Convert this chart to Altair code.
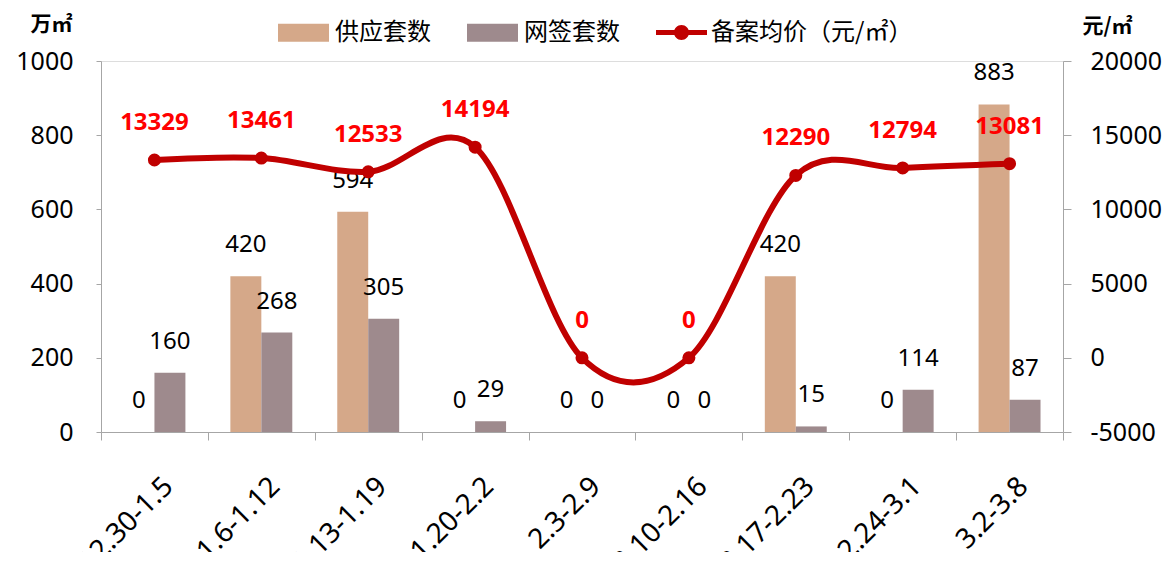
import altair as alt
import pandas as pd

categories = ["12.30-1.5", "1.6-1.12", "1.13-1.19", "1.20-2.2", "2.3-2.9",
              "2.10-2.16", "2.17-2.23", "2.24-3.1", "3.2-3.8"]
supply = [0, 420, 594, 0, 0, 0, 420, 0, 883]
signed = [160, 268, 305, 29, 0, 0, 15, 114, 87]
price = [13329, 13461, 12533, 14194, 0, 0, 12290, 12794, 13081]

bar_series = ["供应套数", "网签套数"]
bar_colors = ["#D5A889", "#9E8A8D"]
line_name = "备案均价（元/㎡）"

rows = []
for c, s, n in zip(categories, supply, signed):
    rows.append({"cat": c, "series": bar_series[0], "value": s})
    rows.append({"cat": c, "series": bar_series[1], "value": n})
bars_df = pd.DataFrame(rows)
line_df = pd.DataFrame({"cat": categories, "price": price, "name": line_name})

AX = "#A6A6A6"
NUMFONT = "Noto Sans"
CJK = "Noto Sans CJK SC"

x_enc = alt.X("cat:N", sort=categories,
              scale=alt.Scale(paddingInner=0, paddingOuter=0),
              axis=alt.Axis(title=None, labelAngle=-45, labelFontSize=28, labelFont=NUMFONT,
                            labelColor="#000", tickBand="extent", tickSize=8, tickColor=AX,
                            domainColor=AX, labelPadding=32, labelOffset=4, grid=False))
xoff = alt.XOffset("series:N", sort=bar_series,
                   scale=alt.Scale(domain=bar_series, paddingInner=0, paddingOuter=0.726))

y_bar = alt.Y("value:Q", scale=alt.Scale(domain=[0, 1000], nice=False),
              axis=alt.Axis(values=[0, 200, 400, 600, 800, 1000], labelExpr="datum.value + ''",
                            title="万㎡", titleAngle=0,
                            titleX=-50, titleY=-37, titleAlign="center", titleBaseline="middle",
                            titleFont=CJK, titleFontSize=21, titleFontWeight="bold",
                            titleColor="#000", labelFontSize=25, labelFont=NUMFONT, labelColor="#000",
                            tickSize=5, tickColor=AX, domainColor=AX, labelPadding=23, grid=False))

bars = alt.Chart(bars_df).mark_bar().encode(
    x=x_enc, xOffset=xoff, y=y_bar,
    color=alt.Color("series:N", sort=bar_series,
                    scale=alt.Scale(domain=bar_series, range=bar_colors),
                    legend=alt.Legend(title=None, orient="none", direction="horizontal",
                                      legendX=177, legendY=-54, padding=0,
                                      symbolType="M-1,-0.353H1V0.353H-1Z", symbolSize=2601,
                                      symbolStrokeWidth=0, labelFont=CJK, labelFontSize=24,
                                      labelColor="#000", labelOffset=6, columnPadding=36,
                                      labelLimit=400)),
)
bar_text = alt.Chart(bars_df).mark_text(fontSize=24, font=NUMFONT, color="#000",
                                        baseline="middle", dy=-31).encode(
    x=alt.X("cat:N", sort=categories), xOffset=xoff,
    y="value:Q", text=alt.Text("value:Q"),
)
left = alt.layer(bars, bar_text)

y_line = alt.Y("price:Q", scale=alt.Scale(domain=[-5000, 20000], nice=False),
               axis=alt.Axis(orient="right", values=[-5000, 0, 5000, 10000, 15000, 20000],
                             labelExpr="datum.value + ''",
                             title="元/㎡", titleAngle=0, titleX=44, titleY=-35,
                             titleAlign="center", titleBaseline="middle", titleFont=CJK,
                             titleFontSize=21, titleFontWeight="bold", titleColor="#000",
                             labelFontSize=25, labelFont=NUMFONT, labelColor="#000",
                             tickSize=8, tickColor=AX, domainColor=AX, labelPadding=19,
                             grid=False))

line = alt.Chart(line_df).mark_line(
    interpolate="cardinal", tension=0, strokeWidth=6,
    point=alt.OverlayMarkDef(size=170, filled=True, color="#C00000")
).encode(
    x=alt.X("cat:N", sort=categories), y=y_line,
    color=alt.Color("name:N", scale=alt.Scale(domain=[line_name], range=["#C00000"]),
                    legend=alt.Legend(title=None, orient="none", legendX=555, legendY=-54,
                                      padding=0,
                                      symbolType="M-1,-0.1H1V0.1H-1Z M0.294,0A0.294,0.294 0 1,1 -0.294,0A0.294,0.294 0 1,1 0.294,0Z",
                                      symbolSize=2601, symbolFillColor="#C00000",
                                      symbolStrokeColor="#C00000", symbolStrokeWidth=0,
                                      labelFont=CJK, labelFontSize=24, labelColor="#000",
                                      labelOffset=4, labelLimit=400)),
)
line_text = alt.Chart(line_df).mark_text(fontSize=24, font=NUMFONT, fontWeight="bold",
                                         color="#FF0000", baseline="middle", dy=-37).encode(
    x=alt.X("cat:N", sort=categories), y="price:Q", text=alt.Text("price:Q"),
)
right = alt.layer(line, line_text)

chart = alt.layer(left, right).resolve_scale(y="independent", color="independent").properties(
    width=962, height=371, autosize="none",
    padding={"left": 93, "top": 53, "right": 100, "bottom": 120},
).configure_view(stroke=None).configure(background="white")

chart.save("out.html", embed_options={"renderer": "svg", "actions": False})
